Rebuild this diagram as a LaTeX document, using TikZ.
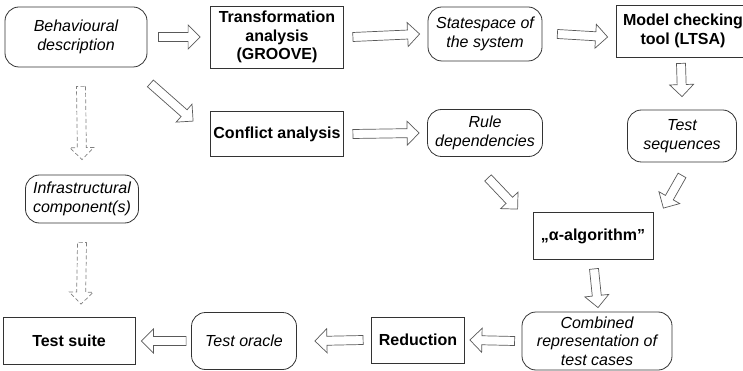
\documentclass[tikz,border=0pt]{standalone}
\usepackage{fontspec}
\setmainfont{Liberation Sans}
\usetikzlibrary{calc}

% hollow block arrow between two points
\newcommand\blkarrow[3][]{%
  \draw[blkline,#1] let \p1=(#2), \p2=(#3),
      \n1={atan2(\y2-\y1,\x2-\x1)},
      \n2={veclen(\x2-\x1,\y2-\y1)-12pt} in
    ($(\p1)+({\n1+90}:4.5pt)$) -- ($(\p1)+(\n1:\n2)+({\n1+90}:4.5pt)$)
    -- ($(\p1)+(\n1:\n2)+({\n1+90}:12pt)$) -- (\p2)
    -- ($(\p1)+(\n1:\n2)+({\n1-90}:12pt)$) -- ($(\p1)+(\n1:\n2)+({\n1-90}:4.5pt)$)
    -- ($(\p1)+({\n1-90}:4.5pt)$) -- cycle;}

\tikzset{
  box/.style={draw=black!80, line width=0.8pt, align=center, inner sep=2pt,
    font=\fontsize{16}{18.5}\selectfont\bfseries},
  rbox/.style={box, rounded corners=14pt, font=\fontsize{16}{18.5}\selectfont\itshape},
  sz/.style 2 args={minimum width=#1pt, minimum height=#2pt},
  blkline/.style={draw=black!65, line width=0.7pt, line join=miter},
  dashblk/.style={draw=black!50, dashed, dash pattern=on 4pt off 2.5pt},
}

\begin{document}
\begin{tikzpicture}[x=1pt,y=-1pt]
  \useasboundingbox (0,0) rectangle (743,371);

  \node[rbox,sz={142}{60}] (bd) at (76,37)   {Behavioural\\description};
  \node[box,sz={133}{62}]  (ta) at (277,37)  {Transformation\\analysis\\(GROOVE)};
  \node[rbox,sz={114}{54}] (ss) at (485,34)  {Statespace of\\the system};
  \node[box,sz={134}{52}]  (mc) at (683,31)  {Model checking\\tool (LTSA)};
  \node[box,sz={133}{45}]  (ca) at (277,134) {Conflict analysis};
  \node[rbox,sz={115}{47}] (rd) at (485,133) {Rule\\dependencies};
  \node[rbox,sz={109}{52}] (ts) at (682,136) {Test\\sequences};
  \node[rbox,sz={113}{48}] (ic) at (82,199)  {Infrastructural\\component(s)};
  \node[box,sz={120}{47}]  (al) at (593,236) {„α-algorithm”};
  \node[rbox,sz={150}{58}] (cr) at (597,341) {Combined\\representation of\\test cases};
  \node[box,sz={93}{46}]   (re) at (418,340) {Reduction};
  \node[rbox,sz={105}{57}] (to) at (244,341) {Test oracle};
  \node[box,sz={132}{47}]  (su) at (69,341)  {Test suite};

  \blkarrow{[xshift=11pt]bd.east}{[xshift=-10pt]ta.west}
  \blkarrow{[xshift=9pt]ta.east}{[xshift=-8pt]ss.west}
  \blkarrow{[xshift=15pt]ss.east}{[xshift=-8pt,yshift=-6pt]mc.west}
  \blkarrow{[xshift=-2pt,yshift=-6pt]mc.south}{[yshift=13pt]ts.north}
  \blkarrow{[xshift=9pt]ca.east}{[xshift=-8pt]rd.west}
  \blkarrow{[xshift=3pt,yshift=-16pt]bd.south east}{[xshift=-17pt,yshift=-10pt]ca.north west}
  \blkarrow{[xshift=3pt,yshift=-21pt]rd.south}{[xshift=-15pt,yshift=3pt]al.north west}
  \blkarrow{[yshift=-13pt]ts.south}{[xshift=10pt,yshift=4pt]al.north east}
  \blkarrow{[xshift=1pt,yshift=-9pt]al.south}{[xshift=1pt,yshift=4pt]cr.north}
  \blkarrow{[xshift=-7pt]cr.west}{[xshift=5pt]re.east}
  \blkarrow{[xshift=-8pt]re.west}{[xshift=18pt]to.east}
  \blkarrow{[xshift=-5pt]to.west}{[xshift=6pt]su.east}
  \blkarrow[dashblk]{[xshift=5pt,yshift=-19pt]bd.south}{[yshift=15pt]ic.north}
  \blkarrow[dashblk]{[yshift=-19pt]ic.south}{[xshift=12pt,yshift=13pt]su.north}
\end{tikzpicture}
\end{document}
